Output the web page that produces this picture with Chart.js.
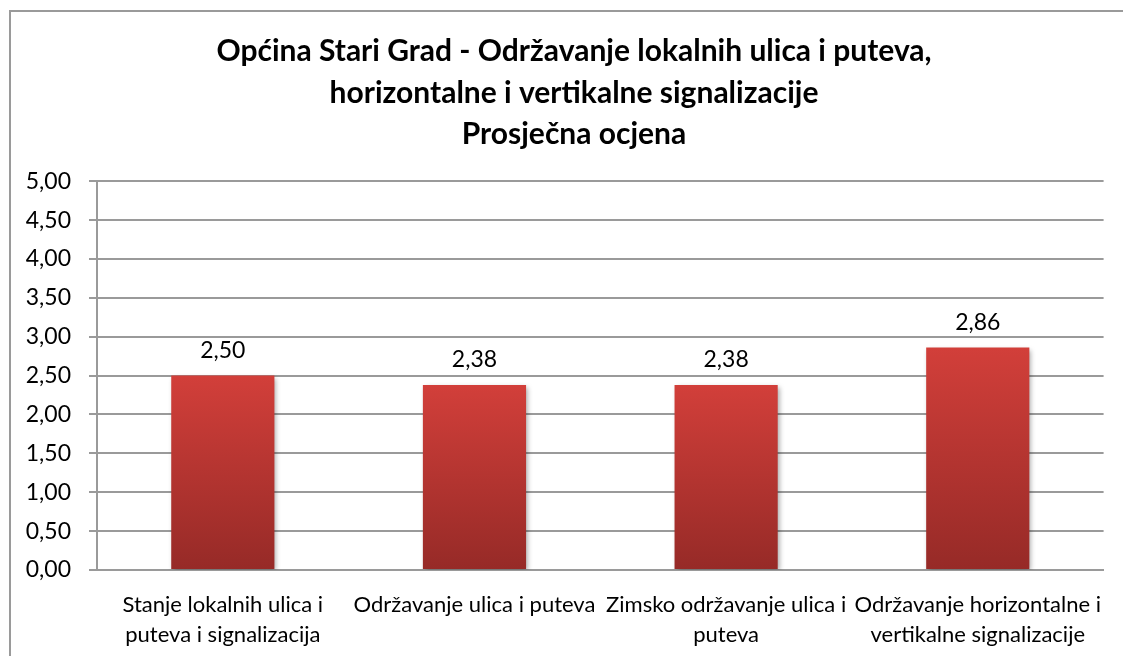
<!DOCTYPE html>
<html>
<head>
<meta charset="utf-8">
<script src="https://cdn.jsdelivr.net/npm/chart.js@4"></script>
<style>
  html, body { margin: 0; padding: 0; background: #fff; }
  #wrap { width: 1123px; height: 656px; }
</style>
</head>
<body>
<div id="wrap"><canvas id="ocjena"></canvas></div>
<script>
// =====================
// Prosječna ocjena chart
// =====================
var categories = [
  ["Stanje lokalnih ulica i", "puteva i signalizacija"],
  "Održavanje ulica i puteva",
  ["Zimsko održavanje ulica i", "puteva"],
  ["Održavanje horizontalne i", "vertikalne signalizacije"]
];
var ocjene = [2.50, 2.38, 2.38, 2.86];
var titleLines = [
  "Općina Stari Grad - Održavanje lokalnih ulica i puteva,",
  "horizontalne i vertikalne signalizacije",
  "Prosječna ocjena"
];

var FONT = "Lato, 'Open Sans', sans-serif";

function fmt(v) {
  return Number(v).toFixed(2).replace('.', ',');
}

// frame round the whole chart + bar shadow + value labels
var excelLook = {
  id: 'excelLook',
  afterLayout: function(chart) {
    // Excel centres the title a bit right of the canvas middle
    if (chart.titleBlock) {
      chart.titleBlock.left += 17;
      chart.titleBlock.right += 17;
    }
  },
  beforeDraw: function(chart) {
    var c = chart.ctx;
    c.save();
    c.strokeStyle = '#9a9a9a';
    c.lineWidth = 2;
    c.strokeRect(10, 11, 1200, 700);
    c.restore();
  },
  beforeDatasetsDraw: function(chart) {
    var c = chart.ctx;
    c.save();
    c.shadowColor = 'rgba(0,0,0,0.35)';
    c.shadowBlur = 5;
    c.shadowOffsetX = 2;
    c.shadowOffsetY = 2;
  },
  afterDatasetsDraw: function(chart) {
    var c = chart.ctx;
    c.restore();
    c.save();
    c.font = '23px ' + FONT;
    c.fillStyle = '#000';
    c.textAlign = 'center';
    c.textBaseline = 'middle';
    chart.getDatasetMeta(0).data.forEach(function(bar, i) {
      c.fillText(fmt(ocjene[i]), bar.x, bar.y - 25);
    });
    c.restore();
  }
};

var ctxOcjena = document.getElementById("ocjena").getContext("2d");

var ocjenaChart = new Chart(ctxOcjena, {
  type: 'bar',
  data: {
    labels: categories,
    datasets: [{
      data: ocjene,
      backgroundColor: function(context) {
        var chart = context.chart;
        var y = chart.scales.y;
        if (!y || !context.parsed) return '#b53531';
        var top = y.getPixelForValue(context.parsed.y);
        var bottom = y.getPixelForValue(0);
        if (!isFinite(top) || !isFinite(bottom) || top === bottom) return '#b53531';
        var g = chart.ctx.createLinearGradient(0, top, 0, bottom);
        g.addColorStop(0, '#d23f3a');
        g.addColorStop(1, '#962a27');
        return g;
      },
      borderWidth: 0,
      barPercentage: 0.41,
      categoryPercentage: 1.0
    }]
  },
  options: {
    responsive: true,
    maintainAspectRatio: false,
    animation: false,
    layout: { padding: { left: 7, right: 16, top: 14, bottom: 0 } },
    plugins: {
      legend: { display: false },
      tooltip: { enabled: false },
      title: {
        display: true,
        text: titleLines,
        color: '#000',
        font: { family: FONT, size: 30, weight: 'bold', lineHeight: 1.38 },
        padding: { top: 17, bottom: 26 }
      }
    },
    scales: {
      x: {
        grid: { display: false, drawTicks: false },
        border: { color: '#9a9a9a', width: 2 },
        ticks: {
          color: '#000',
          font: { family: FONT, size: 22, lineHeight: 1.36 },
          maxRotation: 0,
          autoSkip: false,
          padding: 20
        },
        afterFit: function(scale) { scale.height = 86; }
      },
      y: {
        min: 0,
        max: 5,
        grid: { color: '#9a9a9a', lineWidth: 2, tickLength: 8 },
        border: { color: '#9a9a9a', width: 2 },
        ticks: {
          stepSize: 0.5,
          color: '#000',
          font: { family: FONT, size: 23 },
          padding: 18,
          callback: function(v) { return fmt(v); }
        },
        afterFit: function(scale) { scale.width = 90; }
      }
    }
  },
  plugins: [excelLook]
});
</script>
</body>
</html>
